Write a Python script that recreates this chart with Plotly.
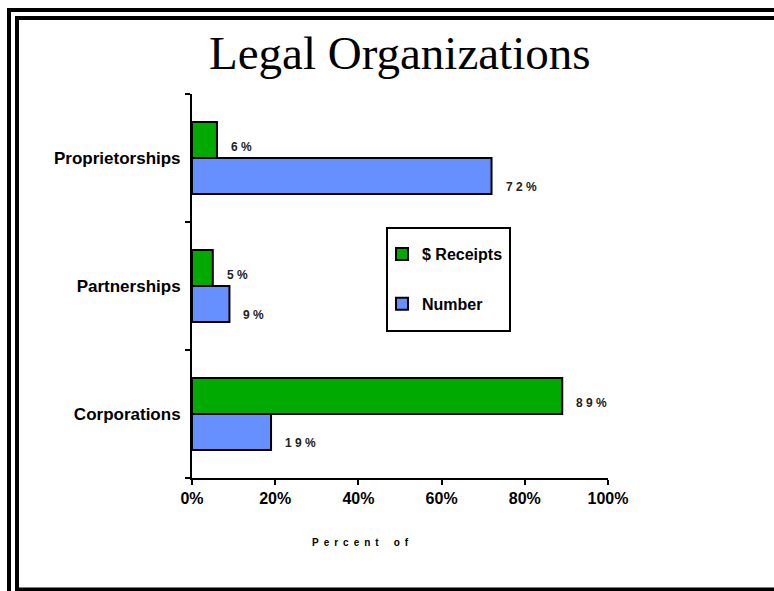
import plotly.graph_objects as go

categories = ["Corporations", "Partnerships", "Proprietorships"]
receipts_pct = [89, 5, 6]
number_pct = [19, 9, 72]
x_ticks = [0, 20, 40, 60, 80, 100]
x_tick_labels = ["0%", "20%", "40%", "60%", "80%", "100%"]

W, H = 774, 591
PL, PR, PT, PB = 192, 608, 94, 478  # plot area in screen px
L, R, T, B = PL, W - PR, PT, H - PB
PW, PH = PR - PL, PB - PT


def px(x):
    return (x - PL) / PW


def py(y):
    return (PB - y) / PH


def spaced(v):
    return " ".join(str(v)) + " %"


fig = go.Figure()
fig.add_trace(go.Bar(
    y=categories, x=number_pct, orientation="h", name="<b>Number</b>",
    marker=dict(color="#6690FF", line=dict(color="black", width=2)),
    legendgroup="b", legendrank=2,
))
fig.add_trace(go.Bar(
    y=categories, x=receipts_pct, orientation="h", name="<b>$ Receipts</b>",
    marker=dict(color="#00AA00", line=dict(color="black", width=2)),
    legendgroup="a", legendrank=1,
))

annos = []
lab_font = dict(family="Liberation Sans, Arial", size=12, color="#222")
for c, v in zip(categories, receipts_pct):
    annos.append(dict(x=v, y=c, xref="x", yref="y", text="<b>%s</b>" % spaced(v),
                      showarrow=False, xanchor="left", yanchor="middle",
                      xshift=12, yshift=11, font=lab_font))
for c, v in zip(categories, number_pct):
    annos.append(dict(x=v, y=c, xref="x", yref="y", text="<b>%s</b>" % spaced(v),
                      showarrow=False, xanchor="left", yanchor="middle",
                      xshift=12, yshift=-29, font=lab_font))

annos.append(dict(x=px(400), y=py(53), xref="paper", yref="paper",
                  text="Legal Organizations", showarrow=False,
                  xanchor="center", yanchor="middle",
                  font=dict(family="Liberation Serif, Times New Roman", size=47, color="black")))
annos.append(dict(x=px(360), y=py(542), xref="paper", yref="paper",
                  text="<b>" + "\u2002".join("Percent") + "\u2002\u2002\u2002" + "\u2002".join("of") + "</b>",
                  showarrow=False, xanchor="center", yanchor="middle",
                  font=dict(family="Liberation Sans, Arial", size=10, color="black")))

shapes = []
line = dict(color="black", width=4)
# outer frame
shapes.append(dict(type="line", xref="paper", yref="paper", x0=px(9), x1=px(800), y0=py(10), y1=py(10), line=line))
shapes.append(dict(type="line", xref="paper", yref="paper", x0=px(9), x1=px(9), y0=py(8), y1=py(620), line=line))
# inner frame
shapes.append(dict(type="line", xref="paper", yref="paper", x0=px(17), x1=px(800), y0=py(18), y1=py(18), line=line))
shapes.append(dict(type="line", xref="paper", yref="paper", x0=px(17), x1=px(17), y0=py(16), y1=py(591), line=line))
shapes.append(dict(type="line", xref="paper", yref="paper", x0=px(15), x1=px(800), y0=py(589.5), y1=py(589.5), line=line))
# legend box
shapes.append(dict(type="rect", xref="paper", yref="paper", x0=px(387), x1=px(510), y0=py(228), y1=py(331),
                   line=dict(color="black", width=2), fillcolor="white", layer="below"))

fig.update_layout(
    width=W, height=H,
    margin=dict(l=L, r=R, t=T, b=B, autoexpand=False),
    paper_bgcolor="white", plot_bgcolor="white",
    barmode="group", bargap=0.4375, bargroupgap=0,
    showlegend=True,
    legend=dict(
        x=px(382), y=py(237), xanchor="left", yanchor="top",
        borderwidth=0, bgcolor="rgba(0,0,0,0)",
        traceorder="grouped", tracegroupgap=26,
        font=dict(family="Liberation Sans, Arial", size=16, color="black"),
        itemwidth=30,
    ),
    xaxis=dict(
        range=[0, 100], tickvals=x_ticks, ticktext=["<b>%s</b>" % t for t in x_tick_labels],
        showline=True, linecolor="black", linewidth=2, showgrid=False, zeroline=False,
        ticks="outside", ticklen=5, tickwidth=2, tickcolor="black",
        tickfont=dict(family="Liberation Sans, Arial", size=16, color="black"),
        fixedrange=True,
    ),
    yaxis=dict(
        categoryorder="array", categoryarray=categories,
        tickvals=categories, ticktext=["<b>%s</b>" % c for c in categories],
        showline=True, linecolor="black", linewidth=2, showgrid=False, zeroline=False,
        ticks="outside", ticklen=5, tickwidth=2, tickcolor="black", tickson="boundaries",
        tickfont=dict(family="Liberation Sans, Arial", size=17, color="black"),
        ticklabelstandoff=6,
        range=[-0.5, 2.5],
    ),
    annotations=annos,
    shapes=shapes,
)

fig.write_html(
    "out.html",
    config={"displayModeBar": False},
    post_script="document.body.style.margin='0';document.body.style.overflow='hidden';",
)
